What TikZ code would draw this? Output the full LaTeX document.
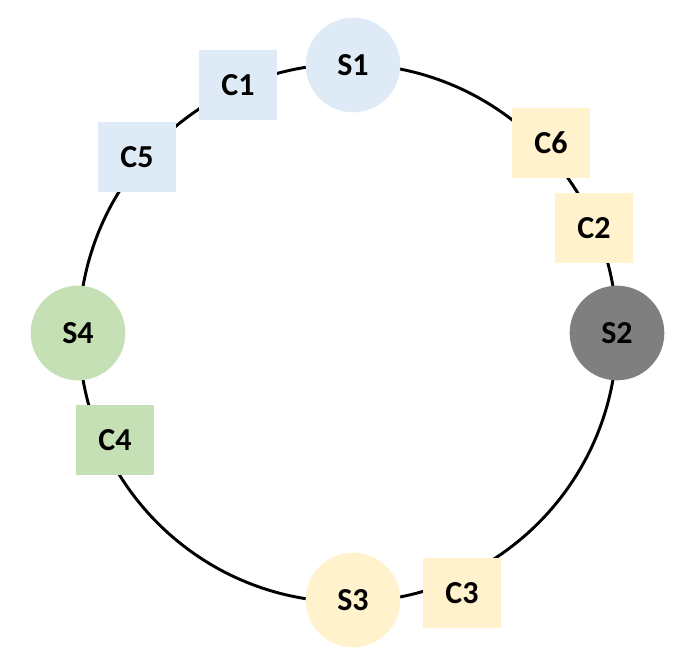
\documentclass[tikz,border=0pt]{standalone}
\usepackage{fontspec}
\setmainfont{Carlito}
\definecolor{sblue}{HTML}{DEEBF7}
\definecolor{syellow}{HTML}{FFF2CC}
\definecolor{sgreen}{HTML}{C5E0B4}
\definecolor{sgray}{HTML}{7F7F7F}
\tikzset{
	server/.style={circle, minimum size=71pt, inner sep=0pt, font=\fontsize{24}{28}\selectfont\bfseries}, % servers on the ring
	key/.style={rectangle, minimum width=58pt, minimum height=52pt, inner sep=0pt, font=\fontsize{24}{28}\selectfont\bfseries}, % keys on the ring
}
\begin{document}
\begin{tikzpicture}[x=0.75pt,y=-0.75pt]
	\useasboundingbox (0,0) rectangle (679,657);
	\coordinate (c) at (348,333);
	\draw[line width=2.2pt] (c) circle (269);

	\node[server, fill=sblue](s1) at (353,65){S1};
	\node[server, fill=sgray](s2) at (617,333){S2};
	\node[server, fill=syellow](s3) at (353,600){S3};
	\node[server, fill=sgreen](s4) at (78,333){S4};

	\node[key, fill=sblue](c1) at (238,85){C1};
	\node[key, fill=sblue](c5) at (137,157){C5};
	\node[key, fill=syellow](c6) at (551,143){C6};
	\node[key, fill=syellow](c2) at (594,228){C2};
	\node[key, fill=sgreen](c4) at (115,440){C4};
	\node[key, fill=syellow](c3) at (462,593){C3};
\end{tikzpicture}
\end{document}
